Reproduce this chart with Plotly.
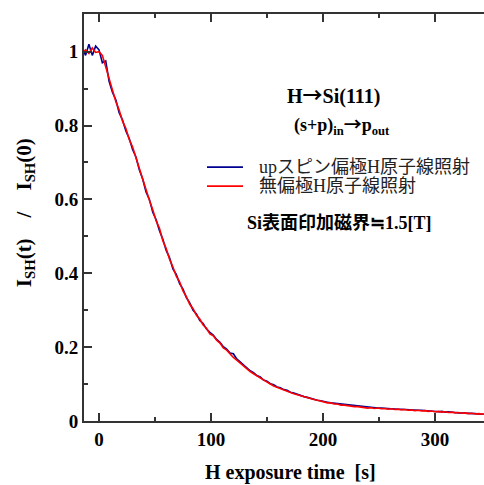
import plotly.graph_objects as go

time_s = list(range(-15, 346, 3))

up_spin = [
    1.01, 0.99, 1.02, 0.99, 1.015, 1.005, 0.97, 0.975, 0.92, 0.89,
    0.87, 0.835, 0.815, 0.785, 0.765, 0.735, 0.715, 0.68, 0.655, 0.62,
    0.60, 0.565, 0.545, 0.515, 0.492, 0.462, 0.442, 0.412, 0.397, 0.372,
    0.357, 0.334, 0.320, 0.300, 0.290, 0.272, 0.264, 0.249, 0.240, 0.233,
    0.221, 0.213, 0.201, 0.195, 0.184, 0.182, 0.168, 0.160, 0.151, 0.145,
    0.136, 0.131, 0.123, 0.119, 0.111, 0.108, 0.101, 0.098, 0.092, 0.090,
    0.085, 0.083, 0.078, 0.076, 0.072, 0.070, 0.066, 0.064, 0.061, 0.060,
    0.056, 0.055, 0.052, 0.051, 0.049, 0.048, 0.046, 0.045, 0.043, 0.043,
    0.041, 0.041, 0.039, 0.039, 0.037, 0.037, 0.036, 0.036, 0.035, 0.035,
    0.034, 0.034, 0.033, 0.033, 0.032, 0.032, 0.031, 0.031, 0.030, 0.030,
    0.029, 0.029, 0.028, 0.028, 0.027, 0.027, 0.025, 0.026, 0.024, 0.025,
    0.023, 0.023, 0.022, 0.022, 0.021, 0.022, 0.020, 0.020, 0.019, 0.019,
    0.018,
]

unpolarized = [
    0.995, 1.005, 0.995, 1.01, 0.998, 1.0, 0.99, 0.96, 0.93, 0.895,
    0.865, 0.842, 0.812, 0.792, 0.762, 0.742, 0.712, 0.688, 0.652, 0.628,
    0.598, 0.572, 0.542, 0.522, 0.488, 0.467, 0.438, 0.417, 0.392, 0.377,
    0.352, 0.337, 0.316, 0.304, 0.286, 0.276, 0.260, 0.251, 0.236, 0.231,
    0.219, 0.211, 0.198, 0.192, 0.181, 0.172, 0.165, 0.157, 0.149, 0.141,
    0.134, 0.128, 0.122, 0.116, 0.110, 0.105, 0.100, 0.095, 0.091, 0.087,
    0.084, 0.080, 0.077, 0.074, 0.071, 0.068, 0.066, 0.062, 0.061, 0.058,
    0.056, 0.053, 0.052, 0.049, 0.049, 0.046, 0.046, 0.043, 0.043, 0.041,
    0.041, 0.039, 0.039, 0.037, 0.037, 0.035, 0.036, 0.034, 0.035, 0.033,
    0.034, 0.032, 0.033, 0.031, 0.032, 0.030, 0.031, 0.029, 0.030, 0.028,
    0.029, 0.027, 0.028, 0.026, 0.027, 0.025, 0.026, 0.024, 0.025, 0.023,
    0.024, 0.022, 0.023, 0.021, 0.022, 0.020, 0.021, 0.019, 0.020, 0.018,
    0.018,
]

x_ticks = [0, 100, 200, 300]
y_ticks = [0, 0.2, 0.4, 0.6, 0.8, 1.0]
y_tick_labels = ["0", "0.2", "0.4", "0.6", "0.8", "1"]

series_names = ["upスピン偏極H原子線照射", "無偏極H原子線照射"]
series_colors = ["#000090", "#ff0000"]

SERIF = "Liberation Serif, Times New Roman, Noto Sans CJK JP, serif"
CJK = "Noto Sans CJK JP"
AXIS_COLOR = "#333333"

L, T, R, B = 84, 14, 484, 420.7
W, H = 484, 485


def px(xp, yp):
    return (xp - L) / (R - L), (B - yp) / (B - T)


fig = go.Figure()
for name, vals, col in zip(series_names, [up_spin, unpolarized], series_colors):
    fig.add_trace(go.Scatter(x=time_s, y=vals, mode="lines", name=name,
                             line=dict(color=col, width=1.6), showlegend=False))

fig.update_layout(
    width=W, height=H,
    margin=dict(l=L, r=W - R, t=T, b=H - B, autoexpand=False),
    paper_bgcolor="white", plot_bgcolor="white",
    font=dict(family=SERIF, color="black"),
    showlegend=False,
    xaxis=dict(
        range=[-13.4, 343.8], tickvals=x_ticks, ticktext=[str(v) for v in x_ticks],
        ticks="inside", ticklen=8, tickwidth=1.5, tickcolor=AXIS_COLOR,
        minor=dict(dtick=50, tick0=0, ticks="inside", ticklen=4, tickwidth=1.5, tickcolor=AXIS_COLOR),
        showline=True, linecolor=AXIS_COLOR, linewidth=2, mirror="ticks",
        showgrid=False, zeroline=False, automargin=False,
        tickfont=dict(family=SERIF, size=19, color="black", weight="bold"),
    ),
    yaxis=dict(
        range=[0, 1.102], tickvals=y_ticks, ticktext=y_tick_labels,
        ticks="inside", ticklen=8, tickwidth=1.5, tickcolor=AXIS_COLOR,
        minor=dict(dtick=0.1, tick0=0, ticks="inside", ticklen=4, tickwidth=1.5, tickcolor=AXIS_COLOR),
        showline=True, linecolor=AXIS_COLOR, linewidth=2, mirror=False,
        showgrid=False, zeroline=False, automargin=False,
        tickfont=dict(family=SERIF, size=19, color="black", weight="bold"),
    ),
)

arrow = f'<span style="font-family:{CJK}">→</span>'
approx = f'<span style="font-family:{CJK}">≒</span>'

texts = [
    (f"<b>H{arrow}Si(111)</b>", 333, 94, 20, "center"),
    (f"<b>(s+p)<sub>in</sub>{arrow}p<sub>out</sub></b>", 342, 124, 18, "center"),
    (f"<b>Si表面印加磁界{approx}1.5[T]</b>", 339, 221, 18, "center"),
    ("<b>H exposure time  [s]</b>", 290, 472, 20, "center"),
]
for txt, xp, yp, size, anchor in texts:
    xx, yy = px(xp, yp)
    fig.add_annotation(x=xx, y=yy, xref="paper", yref="paper", text=txt, showarrow=False,
                       xanchor=anchor, yanchor="middle",
                       font=dict(family=SERIF, size=size, color="black"))

# y-axis title
xx, yy = px(25, 213)
fig.add_annotation(x=xx, y=yy, xref="paper", yref="paper",
                   text="<b>I<sub>SH</sub>(t)    /    I<sub>SH</sub>(0)</b>",
                   showarrow=False, textangle=-90, xanchor="center", yanchor="middle",
                   font=dict(family=SERIF, size=21, color="black"))

# legend drawn manually
legend_rows_y = [167, 186]
for name, col, yp in zip(series_names, series_colors, legend_rows_y):
    x0, y0 = px(207, yp)
    x1, _ = px(243, yp)
    fig.add_shape(type="line", xref="paper", yref="paper", x0=x0, x1=x1, y0=y0, y1=y0,
                  line=dict(color=col, width=1.6))
    tx, ty = px(257, yp)
    fig.add_annotation(x=tx, y=ty, xref="paper", yref="paper", text=name, showarrow=False,
                       xanchor="left", yanchor="middle",
                       font=dict(family=SERIF, size=18, color="#222"))

fig.write_html("out.html", config={"displayModeBar": False},
               post_script="document.body.style.margin='0';document.body.style.overflow='hidden';")
